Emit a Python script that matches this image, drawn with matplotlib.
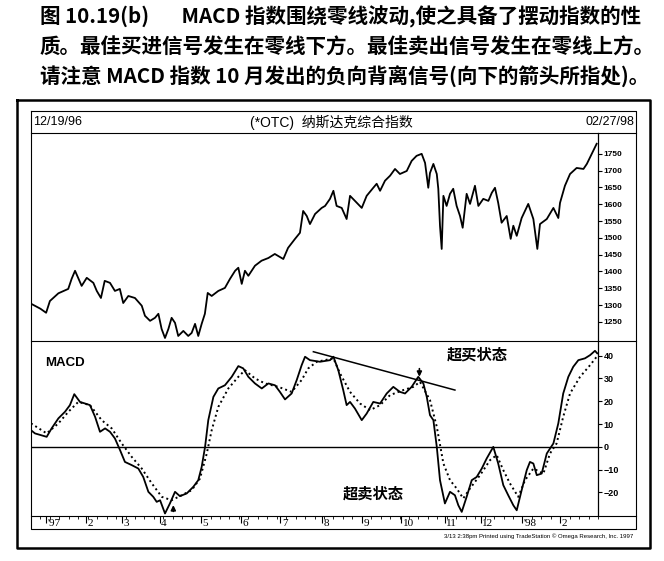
import numpy as np
import matplotlib
matplotlib.use("Agg")
import matplotlib.pyplot as plt
from matplotlib.ticker import MultipleLocator

# 交易日序号 (0 = 12/19/96, 299 = 02/27/98)
price_day = [0, 5, 8, 10, 14.5, 19.7, 21.5, 23.3, 26.8, 29.5, 33, 34.8, 37, 39, 41.8, 44.4, 47,
             48.8, 51.5, 55, 58.6, 60.3, 63, 65.6, 67.4, 69.1, 70.9, 72.7, 74.4, 76.2, 77.9, 80.6,
             83.2, 85, 86.8, 88.5, 90.3, 92, 93.5, 95.6, 99.1, 102.6, 105.3, 108, 109.7, 111.5,
             113.2, 115, 118.5, 122, 125.6, 129, 133.5, 136, 139.7, 142.3, 144, 145.9, 147.6,
             150.3, 153.8, 155.6, 158.2, 160, 161.7, 164.4, 167, 168.8, 171.4, 175, 177.6, 181.1,
             182.9, 184.7, 187.3, 190, 192.6, 195.2, 198.8, 201.4, 204, 206.7, 208.5, 210.2,
             211.1, 212.9, 214.7, 215.5, 216.4, 217.3, 218.2, 219.9, 221.7, 223.4, 225.2, 227,
             228.4, 230.5, 232.3, 234.9, 236.7, 239.3, 242, 243.8, 245.5, 247.2, 249, 251.7,
             253.8, 255.2, 257, 259.6, 263.1, 265.8, 267.9, 269.3, 272.9, 276.4, 279, 279.9,
             282.5, 285.2, 288.7, 292.3, 294.1, 296.7, 299.3]
price_val = [1304, 1289, 1277, 1312, 1335, 1348, 1378, 1402, 1357, 1381, 1366, 1342, 1321, 1372,
             1366, 1342, 1348, 1306, 1327, 1321, 1298, 1268, 1253, 1262, 1274, 1229, 1202, 1229,
             1262, 1247, 1208, 1223, 1208, 1217, 1244, 1208, 1244, 1274, 1336, 1327, 1342, 1351,
             1378, 1402, 1411, 1363, 1402, 1387, 1417, 1432, 1440, 1452, 1437, 1470, 1497, 1515,
             1580, 1565, 1541, 1571, 1589, 1595, 1616, 1640, 1595, 1589, 1556, 1625, 1610, 1589,
             1625, 1649, 1661, 1640, 1670, 1685, 1705, 1690, 1699, 1729, 1744, 1750, 1723, 1649,
             1693, 1720, 1690, 1646, 1536, 1467, 1625, 1595, 1631, 1646, 1595, 1565, 1530, 1631,
             1601, 1655, 1595, 1616, 1610, 1634, 1649, 1604, 1545, 1565, 1497, 1536, 1506, 1559,
             1601, 1556, 1467, 1541, 1556, 1589, 1559, 1604, 1655, 1690, 1708, 1705, 1720, 1750,
             1780]

macd_day = [0, 2.1, 8.3, 10.9, 14.5, 18, 20.6, 22.9, 25.9, 28.6, 31.2, 33.9, 36.5, 39.2, 41.8,
            44.4, 47.1, 49.7, 53.3, 56.8, 59.4, 62.1, 64.7, 66.5, 68.3, 70.9, 73.5, 76.2, 78.8,
            82.4, 85.9, 88.5, 90.3, 92.1, 93.8, 96.5, 99.1, 102.6, 106.2, 109.7, 112.3, 115,
            118.5, 122.1, 125.6, 129.1, 131.7, 134.4, 137.9, 140.6, 143.2, 145, 147.6, 152.9,
            158.2, 160, 162.6, 165.2, 167, 168.8, 171.4, 175, 177.6, 181.1, 184.7, 188.2, 191.7,
            195.2, 197.9, 201.4, 204.9, 207.6, 209.4, 211.1, 212.9, 214.7, 216.4, 219, 221.7,
            224.3, 226.1, 227.9, 230.5, 233.2, 235.8, 238.5, 241.1, 244.6, 247.2, 249.9, 252.5,
            255.2, 257, 259.6, 262.3, 264, 265.8, 267.6, 270.2, 272.9, 276.4, 279, 281.6, 284.3,
            286.9, 289.6, 293.1, 295.8, 298.4, 299.6]
macd_val = [7.3, 5.9, 4.4, 8.1, 12.5, 15.4, 18.3, 23.1, 19.7, 19, 18.3, 13.2, 6.6, 8.1, 6.6,
            3.7, -1.4, -6.6, -8, -9.5, -13.2, -19.7, -21.9, -24.1, -23.4, -29.2, -24.8, -19.7,
            -21.6, -20.4, -17.5, -14.6, -8.8, 0, 11.7, 21.9, 25.6, 27, 30.7, 35.4, 34.4, 30.7,
            27.8, 25.6, 27.8, 27, 24.1, 20.8, 23.4, 29.3, 35.8, 39.5, 38, 37.3, 38, 39.5, 33.6,
            24.9, 18.3, 19.7, 16.8, 11.7, 14.6, 19.7, 19, 23.4, 26.3, 24.1, 23.4, 26.3, 30.7,
            27.8, 21.9, 13.9, 11.7, 0, -14.6, -24.8, -19.7, -21.2, -25.6, -28.5, -21.9, -14.6,
            -13.2, -9.5, -5.1, 0, -7.3, -16.8, -21.2, -25.6, -27.8, -19, -10.2, -6.6, -7.3,
            -12.4, -11.7, -2.9, 1.5, 10.3, 23.4, 30.7, 35.1, 38, 38.8, 40.2, 42.1, 41]

signal_day = [0, 8.3, 14.5, 19.8, 25, 31.2, 37.4, 42.7, 48, 53.3, 58.6, 63.9, 69.2, 74.4, 79.7,
              85, 89.4, 93, 95.6, 99.1, 104.4, 109.7, 113.2, 118.5, 123.8, 130.9, 137.9, 143.2,
              146.7, 151.2, 160, 163.5, 168.8, 174.1, 179.4, 184.7, 190, 197, 202.3, 205.8,
              211.1, 214.7, 218.2, 221.7, 225.2, 228.7, 232.3, 237.6, 242.9, 246.4, 249.9, 253.4,
              257.8, 261.4, 265.8, 271.1, 274.6, 278.1, 281.6, 285.2, 290.5, 295.8, 299.3]
signal_val = [10.3, 5.9, 10.3, 15.4, 19.7, 18.3, 11.7, 8.1, 1.5, -4.4, -9.5, -16, -21.9, -23.4,
              -21.2, -19, -13.9, -2.9, 7.3, 17.5, 25.6, 30.7, 33.6, 30, 27.8, 26.3, 24.1, 29.3,
              34.4, 37.3, 38.8, 32.2, 24.1, 19, 16.1, 18.3, 22.7, 24.9, 26.3, 28.5, 20.5, 8.8,
              -7.3, -14.6, -18.2, -22.6, -18.2, -12.4, -5.8, -3.6, -10.2, -16, -21.9, -14.6, -9.5,
              -11.7, -2.9, 1.5, 13.2, 23.4, 30.7, 35.8, 39.5]

trend_day = [149.4, 224.3]
trend_val = [41.7, 24.9]

month_days = [8, 29, 48, 68, 90, 111, 132, 154, 175, 196, 219, 238, 260, 280]
month_labels = ["'97", "2", "3", "4", "5", "6", "7", "8", "9", "10", "11", "12", "'98", "2"]

price_ticks = list(range(1250, 1751, 50))
macd_ticks = [-20, -10, 0, 10, 20, 30, 40]

W, H = 664, 561
SANS = ['Liberation Sans', 'Noto Sans CJK SC']
CJK = ['Noto Sans CJK SC', 'DejaVu Sans']


def rect(x0, y0, x1, y1):
    return [x0 / W, 1 - y1 / H, (x1 - x0) / W, (y1 - y0) / H]


fig = plt.figure(figsize=(W / 100, H / 100), dpi=100)
fig.patch.set_facecolor('white')

# 背景: 像素坐标, 画框线和文字
bg = fig.add_axes([0, 0, 1, 1])
bg.set_xlim(0, W)
bg.set_ylim(H, 0)
bg.axis('off')

bg.plot([17, 650, 650, 17, 17], [100, 100, 548, 548, 100], color='black', lw=1.8)
bg.plot([31, 636, 636, 31, 31], [111, 111, 529, 529, 111], color='black', lw=0.8)
for yy in (133, 341, 516):
    bg.plot([31, 636], [yy, yy], color='black', lw=0.8)
bg.plot([598, 598], [133, 516], color='black', lw=0.9)

# 标题文字
caption = ["图 10.19(b)       MACD 指数围绕零线波动,使之具备了摆动指数的性",
           "质。最佳买进信号发生在零线下方。最佳卖出信号发生在零线上方。",
           "请注意 MACD 指数 10 月发出的负向背离信号(向下的箭头所指处)。"]
for i, line in enumerate(caption):
    bg.text(40, 17 + 30 * i, line, family=CJK, fontsize=14.8, weight='bold',
            ha='left', va='center')

bg.text(33, 122, '12/19/96', family=SANS, fontsize=9, ha='left', va='center')
bg.text(331, 122, '(*OTC)  纳斯达克综合指数', family=SANS, fontsize=10, ha='center', va='center')
bg.text(634, 122, '02/27/98', family=SANS, fontsize=9, ha='right', va='center')
bg.text(45, 363, 'MACD', family=SANS, fontsize=9.5, weight='bold', ha='left', va='center')
bg.text(477, 354, '超买状态', family=CJK, fontsize=11, weight='bold', ha='center', va='center')
bg.text(373, 494, '超卖状态', family=CJK, fontsize=11, weight='bold', ha='center', va='center')
bg.text(633, 533, '3/13 2:38pm Printed using TradeStation \u00a9 Omega Research, Inc. 1997',
        family=SANS, fontsize=4.3, ha='right', va='top')

# 价格
ax1 = fig.add_axes(rect(31, 133, 598, 341))
ax1.patch.set_alpha(0)
ax1.plot(price_day, price_val, color='black', lw=1.3)
ax1.set_xlim(0, 300)
ax1.set_ylim(1193, 1812)
ax1.set_xticks([])
ax1.yaxis.tick_right()
ax1.set_yticks(price_ticks)
ax1.tick_params(axis='y', direction='out', length=3, width=0.8, pad=1,
                labelsize=6, colors='black')
for lab in ax1.get_yticklabels():
    lab.set_fontweight('bold')
    lab.set_family('Liberation Sans')
for s in ax1.spines.values():
    s.set_visible(False)

# MACD
ax2 = fig.add_axes(rect(31, 341, 598, 516))
ax2.patch.set_alpha(0)
ax2.axhline(0, color='black', lw=1)
ax2.plot(macd_day, macd_val, color='black', lw=1.3)
ax2.plot(signal_day, signal_val, color='black', lw=1.4, ls=(0, (1, 1.6)))
ax2.plot(trend_day, trend_val, color='black', lw=1.1)
ax2.annotate('', xy=(205.5, 29.5), xytext=(205.5, 35.5),
             arrowprops=dict(arrowstyle='-|>', color='black', lw=1.2, mutation_scale=7))
ax2.annotate('', xy=(75.3, -24.3), xytext=(75.3, -29.5),
             arrowprops=dict(arrowstyle='-|>', color='black', lw=1.2, mutation_scale=7))
ax2.set_xlim(0, 300)
ax2.set_ylim(-30.3, 46.4)
ax2.set_xticks([])
ax2.yaxis.tick_right()
ax2.set_yticks(macd_ticks)
ax2.tick_params(axis='y', direction='out', length=3, width=0.8, pad=1,
                labelsize=6.5, colors='black')
for lab in ax2.get_yticklabels():
    lab.set_fontweight('bold')
    lab.set_family('Liberation Sans')
for s in ax2.spines.values():
    s.set_visible(False)

# 月份刻度条
ax3 = fig.add_axes(rect(31, 516, 598, 529))
ax3.patch.set_alpha(0)
ax3.set_xlim(0, 300)
ax3.set_ylim(0, 1)
ax3.set_yticks([])
ax3.xaxis.tick_top()
ax3.set_xticks(month_days)
ax3.set_xticklabels([])
ax3.xaxis.set_minor_locator(MultipleLocator(5))
ax3.tick_params(axis='x', which='major', direction='in', length=5, width=0.8)
ax3.tick_params(axis='x', which='minor', direction='in', length=2.5, width=0.6)
for d, lab in zip(month_days, month_labels):
    ax3.text(d + 0.8, 0.4, lab, family='Liberation Serif', fontsize=8,
             ha='left', va='center')
for s in ax3.spines.values():
    s.set_visible(False)

fig.savefig('out.png', dpi=100)
